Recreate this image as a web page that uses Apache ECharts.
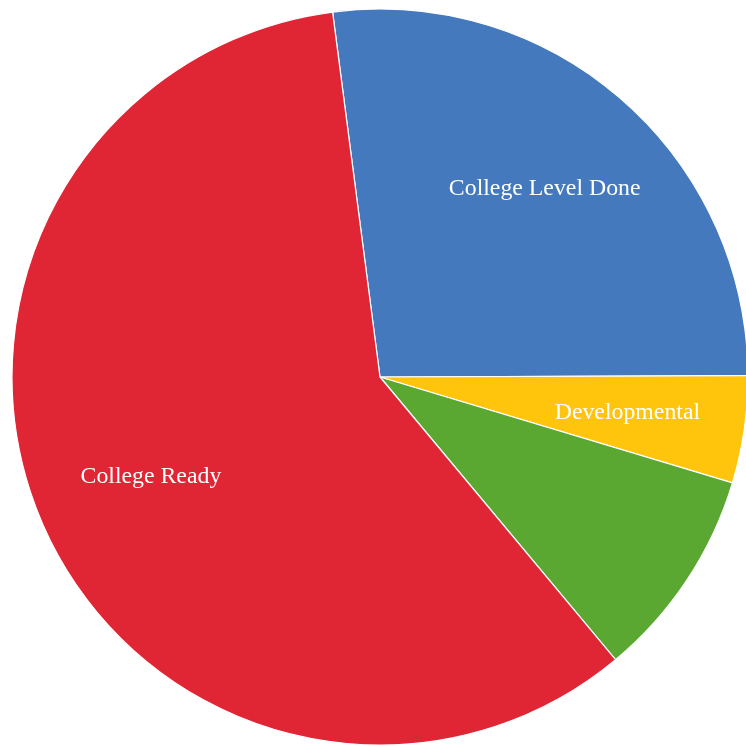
<!DOCTYPE html>
<html>
<head>
<meta charset="utf-8">
<script src="https://cdn.jsdelivr.net/npm/echarts@6/dist/echarts.min.js"></script>
<style>
html,body{margin:0;padding:0;background:#fff;}
#chart{width:746px;height:746px;}
</style>
</head>
<body>
<div id="chart"></div>
<script>
const categories = ['College Level Done', 'Developmental', 'Other', 'College Ready'];
const values = [27.0, 4.7, 9.3, 59.0];
const showLabels = [true, true, false, true];
const colors = ['#4479BE', '#FFC40C', '#5AA732', '#E02535'];

const chart = echarts.init(document.getElementById('chart'));
const sliceData = categories.map((n, i) => ({ name: n, value: values[i], itemStyle: { color: colors[i] } }));
const labelData = categories.map((n, i) => ({ name: n, value: values[i], label: { show: showLabels[i] } }));

chart.setOption({
  animation: false,
  series: [
    {
      type: 'pie',
      center: [380, 377],
      radius: [0, 368],
      startAngle: 97.4,
      clockwise: true,
      silent: true,
      label: { show: false },
      labelLine: { show: false },
      itemStyle: { borderColor: '#ffffff', borderWidth: 1.2 },
      data: sliceData
    },
    {
      type: 'pie',
      center: [380, 377],
      radius: [0, 494],
      startAngle: 97.4,
      clockwise: true,
      silent: true,
      z: 5,
      itemStyle: { color: 'rgba(0,0,0,0)', borderWidth: 0 },
      label: {
        show: true,
        position: 'inside',
        color: '#ffffff',
        fontFamily: 'Liberation Serif',
        fontSize: 23.8,
        formatter: '{b}'
      },
      labelLine: { show: false },
      data: labelData
    }
  ]
});
</script>
</body>
</html>
